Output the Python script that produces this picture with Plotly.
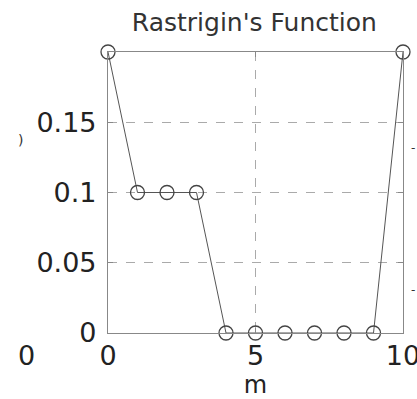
import plotly.graph_objects as go

m_vals = [0, 1, 2, 3, 4, 5, 6, 7, 8, 9, 10]
f_vals = [0.2, 0.1, 0.1, 0.1, 0, 0, 0, 0, 0, 0, 0.2]
x_ticks = [0, 5, 10]
x_tick_text = ["0", "5", "10"]
y_ticks = [0, 0.05, 0.1, 0.15]
y_tick_text = ["0", "0.05", "0.1", "0.15"]

FONT = "DejaVu Sans"

fig = go.Figure()
fig.add_trace(go.Scatter(
    x=m_vals, y=f_vals, mode="lines+markers",
    line=dict(color="#555555", width=1),
    marker=dict(symbol="circle-open", size=14, color="#444444", line=dict(width=1.3, color="#444444")),
    cliponaxis=False, showlegend=False,
))

axis_common = dict(
    showline=True, linecolor="#888888", linewidth=1.2, mirror="ticks",
    ticks="inside", ticklen=5, tickcolor="#888888", tickwidth=1,
    showgrid=True, gridcolor="#aaaaaa", griddash="dash", gridwidth=1,
    zeroline=False, tickfont=dict(family=FONT, size=27, color="#222222"),
    ticklabeloverflow="allow", automargin=False,
)

fig.update_xaxes(range=[0, 10], tickvals=x_ticks, ticktext=x_tick_text,
                 ticklabelstandoff=-2,
                 title=dict(text="m", font=dict(family=FONT, size=24, color="#222222"), standoff=12),
                 **axis_common)
fig.update_yaxes(range=[0, 0.2], tickvals=y_ticks, ticktext=y_tick_text,
                 ticklabelstandoff=5, **axis_common)

fig.update_layout(
    width=417, height=399,
    margin=dict(l=108, r=14, t=52, b=66),
    paper_bgcolor="white", plot_bgcolor="white",
    title=dict(text="Rastrigin's Function", x=0.61, xanchor="center",
               y=1 - 22 / 399, yanchor="middle", yref="container",
               font=dict(family=FONT, size=25, color="#333333")),
    annotations=[
        dict(text="0", x=26, y=355, xref="paper", yref="paper", showarrow=False,
             font=dict(family=FONT, size=27, color="#222222")),
        dict(text=")", x=20, y=140, xref="paper", yref="paper", showarrow=False,
             font=dict(family=FONT, size=14, color="#333333")),
        dict(text="-", x=413, y=148, xref="paper", yref="paper", showarrow=False,
             font=dict(family=FONT, size=12, color="#333333")),
        dict(text="-", x=413, y=290, xref="paper", yref="paper", showarrow=False,
             font=dict(family=FONT, size=12, color="#333333")),
    ],
)

# convert pixel-placed annotations to paper coordinates
pw, ph = 417 - 108 - 14, 399 - 52 - 66
new_ann = []
for a in fig.layout.annotations:
    px, py = a.x, a.y
    a.x = (px - 108) / pw
    a.y = 1 - (py - 52) / ph
    a.xanchor = "center"
    a.yanchor = "middle"
    new_ann.append(a)
fig.layout.annotations = new_ann

fig.write_html("out.html")
